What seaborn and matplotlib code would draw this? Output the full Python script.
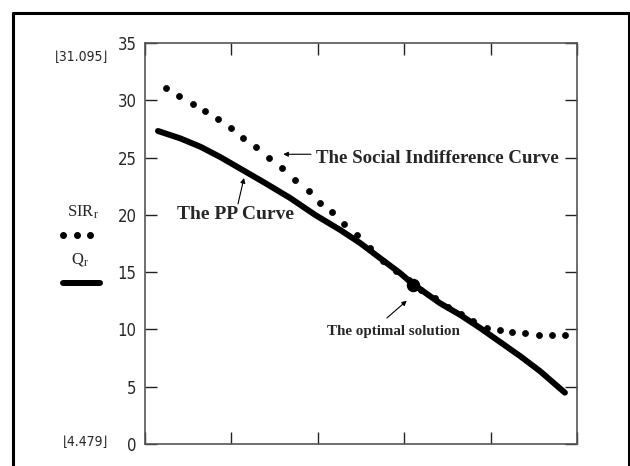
import numpy as np
import pandas as pd
import matplotlib
matplotlib.use("Agg")
import matplotlib.pyplot as plt
import seaborn as sns
from matplotlib.lines import Line2D

# PP curve (Q_r)
q_x = [0.15, 0.41, 0.64, 0.87, 1.15, 1.39, 1.68, 1.97, 2.26, 2.49,
       2.72, 2.95, 3.10, 3.41, 3.65, 3.88, 4.11, 4.34, 4.57, 4.86]
q_y = [27.32, 26.67, 25.95, 25.05, 23.83, 22.78, 21.47, 19.99, 18.68, 17.54,
       16.23, 14.93, 13.97, 12.31, 11.26, 10.12, 8.90, 7.68, 6.37, 4.479]

# social indifference curve (SIR_r)
s_x = [0.24, 0.39, 0.55, 0.69, 0.84, 0.99, 1.14, 1.28, 1.44, 1.59,
       1.74, 1.90, 2.02, 2.17, 2.30, 2.45, 2.60, 2.75, 2.90, 3.05,
       3.20, 3.36, 3.51, 3.66, 3.80, 3.96, 4.11, 4.25, 4.40, 4.56, 4.71, 4.86]
s_y = [31.095, 30.40, 29.65, 29.04, 28.39, 27.56, 26.73, 25.92, 24.94, 24.12,
       23.02, 22.11, 21.01, 20.22, 19.18, 18.26, 17.08, 15.97, 15.10, 14.31,
       13.44, 12.74, 11.93, 11.32, 10.71, 10.10, 9.95, 9.80, 9.69, 9.49, 9.49, 9.49]

opt_x = [3.10]
opt_y = [13.9]

y_ticks = [0, 5, 10, 15, 20, 25, 30, 35]
x_ticks = [0, 1, 2, 3, 4, 5]

sns.set_style("white")
plt.rcParams["font.family"] = ["DejaVu Sans", "Liberation Sans"]
plt.rcParams["font.stretch"] = "condensed"

fig = plt.figure(figsize=(6.3, 4.66), dpi=100)
ax = fig.add_axes([145 / 630, 22 / 466, 432 / 630, 401 / 466])

q_df = pd.DataFrame({"x": q_x, "y": q_y})
s_df = pd.DataFrame({"x": s_x, "y": s_y})

sns.lineplot(data=q_df, x="x", y="y", ax=ax, color="black", lw=4.3,
             solid_capstyle="round", solid_joinstyle="round")
sns.scatterplot(data=s_df, x="x", y="y", ax=ax, color="black", s=19,
                edgecolor="black", linewidth=0.5, zorder=3)
ax.scatter(opt_x, opt_y, s=75, color="black", marker="o", zorder=4)

ax.set_xlim(0, 5)
ax.set_ylim(0, 35)
ax.set_xticks(x_ticks)
ax.set_yticks(y_ticks)
ax.set_xticklabels([])
ax.set_xlabel("")
ax.set_ylabel("")
ax.tick_params(axis="both", direction="in", length=8.6, width=1.0,
               color="#222222", top=True, right=True, bottom=True, left=True,
               labelsize=12, pad=6)
for sp in ax.spines.values():
    sp.set_visible(True)
    sp.set_color("#555555")
    sp.set_linewidth(1.2)

serif = ["Liberation Serif", "DejaVu Serif"]
ax.text(1.98, 24.96, "The Social Indifference Curve", fontsize=13.6, fontweight="bold",
        family=serif, va="center", ha="left")
ax.text(0.37, 19.99, "The PP Curve", fontsize=14, fontweight="bold",
        family=serif, va="center", ha="left")
ax.text(2.106, 9.78, "The optimal solution", fontsize=10.8, fontweight="bold",
        family=serif, va="center", ha="left")

arrow = dict(arrowstyle="-|>", lw=0.8, color="black", mutation_scale=7, shrinkA=0, shrinkB=0)
ax.annotate("", xy=(1.60, 25.29), xytext=(1.92, 25.29), arrowprops=arrow)
ax.annotate("", xy=(1.146, 23.22), xytext=(1.076, 20.95), arrowprops=arrow)
ax.annotate("", xy=(3.03, 12.51), xytext=(2.80, 11.0), arrowprops=arrow)

# range labels and legend on the left
fig.text(108 / 630, 1 - 57 / 466, "\u230a31.095\u230b", fontsize=10, ha="right", va="center")
fig.text(108 / 630, 1 - 442 / 466, "\u230a4.479\u230b", fontsize=10, ha="right", va="center")
fig.text(83 / 630, 1 - 212 / 466, r"$\mathregular{SIR_r}$", fontsize=12, ha="center",
         va="center", family=serif)
fig.text(80 / 630, 1 - 260 / 466, r"$\mathregular{Q_r}$", fontsize=12, ha="center",
         va="center", family=serif)
fig.add_artist(Line2D([63 / 630, 77 / 630, 90 / 630], [1 - 235 / 466] * 3, ls="none",
                      marker="o", ms=4, color="black", transform=fig.transFigure))
fig.add_artist(Line2D([63 / 630, 100 / 630], [1 - 283 / 466] * 2, lw=4.3, color="black",
                      solid_capstyle="round", transform=fig.transFigure))

# outer frame
frame = dict(color="black", lw=2.2, transform=fig.transFigure)
fig.add_artist(Line2D([13 / 630, 13 / 630], [-0.1, 1 - 13 / 466], **frame))
fig.add_artist(Line2D([13 / 630, 629 / 630], [1 - 13 / 466, 1 - 13 / 466], **frame))
fig.add_artist(Line2D([629 / 630, 629 / 630], [-0.1, 1 - 13 / 466], **frame))

fig.savefig("out.png", dpi=100)
